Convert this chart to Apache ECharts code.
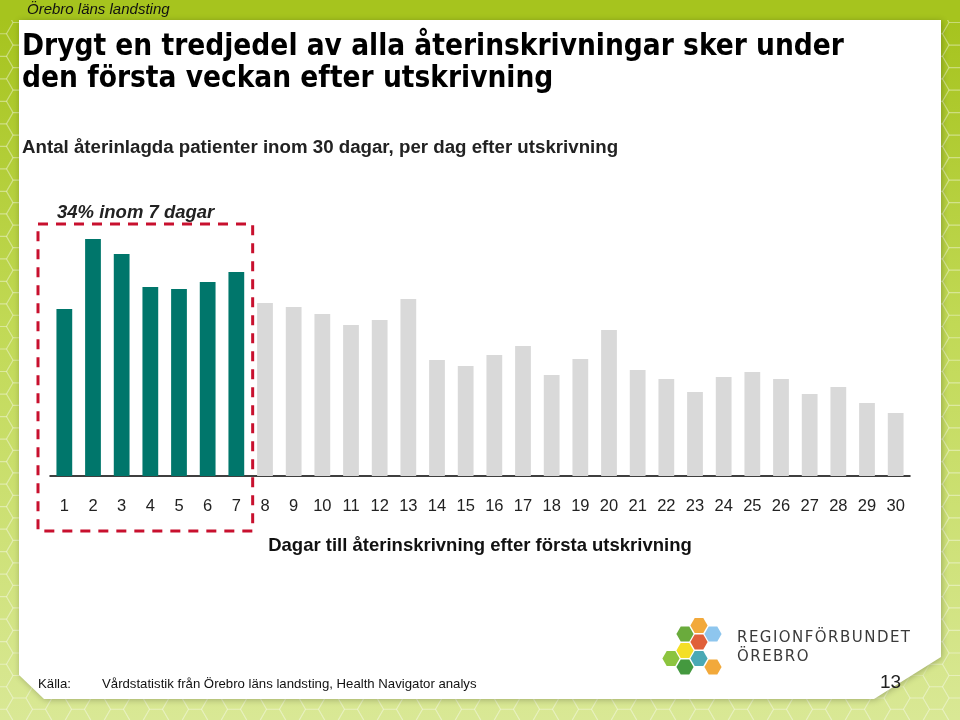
<!DOCTYPE html>
<html>
<head>
<meta charset="utf-8">
<script src="https://cdn.jsdelivr.net/npm/echarts@6/dist/echarts.min.js"></script>
<style>html,body{margin:0;padding:0;background:#fff}#c{width:960px;height:720px}</style>
</head>
<body>
<div id="c"></div>
<script>
// ---- data ----
const categories = ['1','2','3','4','5','6','7','8','9','10','11','12','13','14','15','16','17','18','19','20','21','22','23','24','25','26','27','28','29','30'];
const readmissions = [167, 237, 222, 189, 187, 194, 204, 173, 169, 162, 151, 156, 177, 116, 110, 121, 130, 101, 117, 146, 106, 97, 84, 99, 104, 97, 82, 89, 73, 63];
const highlightDays = 7;
const titleText = 'Drygt en tredjedel av alla återinskrivningar sker under\nden första veckan efter utskrivning';
const subtitleText = 'Antal återinlagda patienter inom 30 dagar, per dag efter utskrivning';
const annotationText = '34% inom 7 dagar';
const xAxisName = 'Dagar till återinskrivning efter första utskrivning';
const headerText = 'Örebro läns landsting';
const sourceLabel = 'Källa:';
const sourceText = 'Vårdstatistik från Örebro läns landsting, Health Navigator analys';
const pageNumber = '13';
const logoLine1 = 'REGIONFÖRBUNDET';
const logoLine2 = 'ÖREBRO';

const chart = echarts.init(document.getElementById('c'), null, {renderer: 'canvas'});

function hexPoints(cx, cy, r) {
  const p = [];
  for (let i = 0; i < 6; i++) {
    const a = Math.PI / 3 * i;
    p.push([cx + r * Math.cos(a), cy + r * Math.sin(a)]);
  }
  return p;
}

const graphics = [];
// background hex pattern (decoration)
const hr = 13, hdx = hr * 1.5, hdy = hr * Math.sqrt(3);
for (let c = 0; c * hdx < 980; c++) {
  for (let r = 0; r * hdy < 740; r++) {
    const cx = c * hdx, cy = r * hdy + (c % 2 ? hdy / 2 : 0);
    if (cx > 40 && cx < 920 && cy > 30 && cy < 680) continue;
    graphics.push({type: 'polygon', silent: true, z: -5, shape: {points: hexPoints(cx, cy, hr)},
      style: {fill: 'none', stroke: 'rgba(255,255,255,0.22)', lineWidth: 1.2}});
  }
}
// top band
graphics.push({type: 'rect', silent: true, z: -4, shape: {x: 0, y: 0, width: 960, height: 20}, style: {fill: '#a6c41e'}});
// white panel
graphics.push({type: 'polygon', silent: true, z: -3,
  shape: {points: [[19, 20], [941, 20], [941, 657], [874, 699], [44, 699], [19, 675]]},
  style: {fill: '#ffffff', shadowBlur: 6, shadowColor: 'rgba(0,0,0,0.25)', shadowOffsetX: 1, shadowOffsetY: 1}});
// texts
const SANS = '"Liberation Sans", Arial, sans-serif';
graphics.push({type: 'text', z: 10, left: 27, top: 2, style: {text: headerText, font: 'italic 15px ' + SANS, fill: '#111'}});
graphics.push({type: 'text', z: 10, left: 22, top: 31, style: {text: titleText, font: 'bold 29.5px "Liberation Sans Narrow", "Arial Narrow", "DejaVu Sans Condensed", sans-serif', lineHeight: 32, fill: '#000'}});
graphics.push({type: 'text', z: 10, left: 22, top: 138, style: {text: subtitleText, font: 'bold 18.7px ' + SANS, fill: '#222'}});
graphics.push({type: 'text', z: 10, left: 57, top: 203, style: {text: annotationText, font: 'italic bold 18.5px ' + SANS, fill: '#222'}});
graphics.push({type: 'text', z: 10, left: 38, top: 678, style: {text: sourceLabel, font: '13.2px ' + SANS, fill: '#111'}});
graphics.push({type: 'text', z: 10, left: 102, top: 678, style: {text: sourceText, font: '13.2px ' + SANS, fill: '#111'}});
graphics.push({type: 'text', z: 10, left: 880, top: 673, style: {text: pageNumber, font: '19px ' + SANS, fill: '#222'}});
// logo text with letter spacing (proportional)
const mctx = document.createElement('canvas').getContext('2d');
const logoFont = '15px "DejaVu Sans", sans-serif';
mctx.font = logoFont;
function spacedText(str, x, y, targetWidth) {
  const widths = Array.from(str).map(function (ch) { return mctx.measureText(ch).width; });
  const total = widths.reduce(function (a, b) { return a + b; }, 0);
  const gap = str.length > 1 ? (targetWidth - total) / (str.length - 1) : 0;
  let cx = x;
  Array.from(str).forEach(function (ch, i) {
    graphics.push({type: 'text', z: 10, x: cx, y: y,
      style: {text: ch, font: logoFont, fill: '#3a3a3a', textAlign: 'left', textVerticalAlign: 'middle'}});
    cx += widths[i] + gap;
  });
  return gap;
}
const logoGap = spacedText(logoLine1, 737, 638, 173);
(function () {
  let cx = 737;
  Array.from(logoLine2).forEach(function (ch) {
    graphics.push({type: 'text', z: 10, x: cx, y: 657,
      style: {text: ch, font: logoFont, fill: '#3a3a3a', textAlign: 'left', textVerticalAlign: 'middle'}});
    cx += mctx.measureText(ch).width + logoGap;
  });
})();
// logo hexagons
const logoCols = [671, 685, 699, 713];
const logoCells = [[2, 625.5, '#f2a93b'], [1, 634, '#6aab3c'], [3, 634, '#8ec6ee'], [2, 642, '#e0603a'],
  [1, 650.5, '#f4df26'], [2, 658.5, '#4aa9b5'], [0, 658.5, '#8cc43f'], [1, 667, '#44993f'], [3, 667, '#f2a93b']];
logoCells.forEach(function (c) {
  graphics.push({type: 'polygon', z: 10, shape: {points: hexPoints(logoCols[c[0]], c[1], 8.6)}, style: {fill: c[2]}});
});

const option = {
  animation: false,
  backgroundColor: {type: 'linear', x: 0, y: 0, x2: 0, y2: 1,
    colorStops: [{offset: 0, color: '#a4c21a'}, {offset: 0.45, color: '#c1d955'}, {offset: 1, color: '#d9e895'}]},
  grid: {left: 50, right: 50, top: 226, bottom: 244},
  xAxis: {
    type: 'category', data: categories,
    name: xAxisName, nameLocation: 'middle', nameGap: 60,
    nameTextStyle: {fontFamily: SANS, fontWeight: 'bold', fontSize: 18.5, color: '#111'},
    axisLine: {lineStyle: {color: '#000', width: 1.5}},
    axisTick: {show: false},
    axisLabel: {margin: 22, fontFamily: SANS, fontSize: 16.5, color: '#222', interval: 0}
  },
  yAxis: {type: 'value', min: 0, max: 250, show: false, splitLine: {show: false}},
  series: [{
    type: 'bar', data: readmissions, barWidth: '55%',
    itemStyle: {color: function (p) { return p.dataIndex < highlightDays ? '#00766b' : '#d9d9d9'; }}
  }],
  graphic: graphics
};
chart.setOption(option);

// dashed box around the first week, positioned from the axis scale
const p0 = chart.convertToPixel({xAxisIndex: 0}, 0);
const p1 = chart.convertToPixel({xAxisIndex: 0}, highlightDays - 1);
const band = (chart.convertToPixel({xAxisIndex: 0}, 1) - p0);
const boxLeft = p0 - band / 2 - 12, boxRight = p1 + band / 2 + 2;
graphics.push({type: 'rect', z: 100, shape: {x: boxLeft, y: 224, width: boxRight - boxLeft, height: 307},
  style: {fill: 'none', stroke: '#c8102e', lineWidth: 3, lineDash: [10, 8]}});
chart.setOption({graphic: graphics}, {replaceMerge: ['graphic']});
</script>
</body>
</html>
